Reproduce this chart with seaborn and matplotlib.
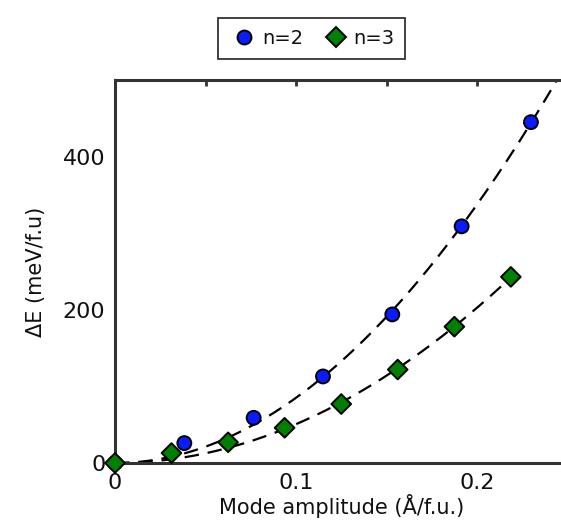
import numpy as np
import pandas as pd
import seaborn as sns
import matplotlib.pyplot as plt

# data
amp_n2 = [0.0, 0.0383, 0.0766, 0.1149, 0.1532, 0.1915, 0.2298]
dE_n2 = [0, 26, 59, 113, 194, 309, 445]
amp_n3 = [0.0, 0.0312, 0.0625, 0.0937, 0.125, 0.1562, 0.1875, 0.2187]
dE_n3 = [0, 13, 27, 46, 77, 122, 178, 243]

sns.set_theme(style="white")
plt.rcParams['font.family'] = ['DejaVu Sans']

df = pd.concat([
    pd.DataFrame({'amp': amp_n2, 'dE': dE_n2, 'n': 'n=2'}),
    pd.DataFrame({'amp': amp_n3, 'dE': dE_n3, 'n': 'n=3'}),
])

# fit a*x^2 + b*x^4 to each set for the dashed guide lines
def fit_curve(x, y, xmax):
    x = np.array(x)
    A = np.vstack([x**2, x**4]).T
    coef = np.linalg.lstsq(A, np.array(y), rcond=None)[0]
    xs = np.linspace(0, xmax, 200)
    return xs, coef[0] * xs**2 + coef[1] * xs**4

fig = plt.figure(figsize=(5.61, 5.30), dpi=100)
ax = fig.add_axes([0.205, 0.1264, 0.8066, 0.7226])

xs, ys = fit_curve(amp_n2, dE_n2, 0.25)
sns.lineplot(x=xs, y=ys, ax=ax, color='black', lw=1.6, zorder=2)
ax.lines[-1].set_dashes((6.5, 4))
xs, ys = fit_curve(amp_n3, dE_n3, amp_n3[-1])
sns.lineplot(x=xs, y=ys, ax=ax, color='black', lw=1.6, zorder=2)
ax.lines[-1].set_dashes((6.5, 4))

palette = {'n=2': '#0a1cff', 'n=3': '#008000'}
sns.scatterplot(data=df, x='amp', y='dE', hue='n', style='n',
                markers={'n=2': 'o', 'n=3': 'D'}, palette=palette,
                s=100, edgecolor='black', linewidth=1.4, ax=ax, zorder=3,
                clip_on=False)

ax.set_xlim(0, 0.25)
ax.set_ylim(0, 500)
ax.set_xticks(np.arange(0, 0.251, 0.05))
ax.set_xticklabels(['0', '', '0.1', '', '0.2', ''])
ax.set_yticks(np.arange(0, 501, 100))
ax.set_yticklabels(['0', '', '200', '', '400', ''])
ax.tick_params(direction='in', length=4, width=2, color='#333333',
               labelsize=16, labelcolor='#111111', top=True, right=True,
               pad=7)
for s in ax.spines.values():
    s.set_linewidth(2.2)
    s.set_color('#333333')
    s.set_visible(True)

ax.set_xlabel('Mode amplitude (Å/f.u.)', fontsize=15, labelpad=1,
              color='#111111')
ax.set_ylabel('ΔE (meV/f.u)', fontsize=15, labelpad=12, color='#111111')

leg = ax.legend(loc='lower center', bbox_to_anchor=(0.435, 1.03), ncol=2,
                fontsize=14, frameon=True, fancybox=False, handletextpad=0.1,
                columnspacing=0.9, borderpad=0.55, handlelength=1.6)
leg.get_frame().set_edgecolor('black')
leg.get_frame().set_linewidth(1.3)
for t in leg.get_texts():
    t.set_color('#111111')

fig.savefig('out.png', dpi=100)
